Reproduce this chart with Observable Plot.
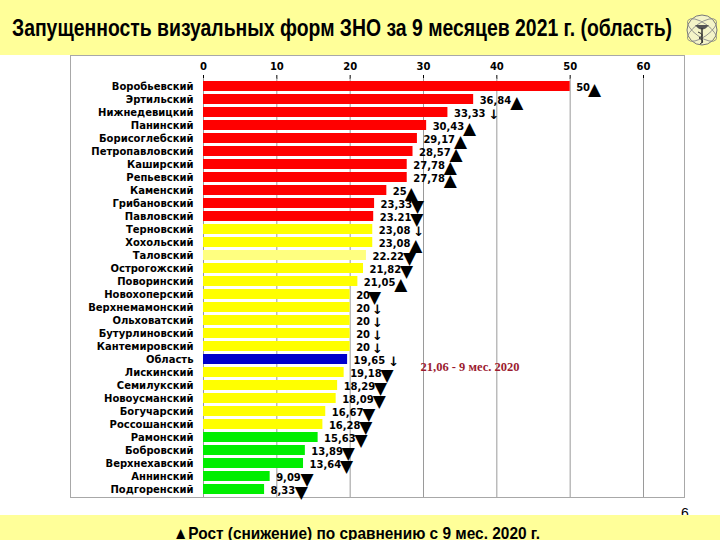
<!DOCTYPE html>
<html><head><meta charset="utf-8">
<script src="https://cdn.jsdelivr.net/npm/d3@7"></script>
<script src="https://cdn.jsdelivr.net/npm/@observablehq/plot@0.6"></script>
<style>
body{margin:0;width:720px;height:540px;background:#fff;position:relative;overflow:hidden;font-family:"DejaVu Sans",sans-serif}
#top{position:absolute;left:0;top:0;width:720px;height:55px;background:#FFFF99}
#title{position:absolute;left:12px;top:14px;font-weight:bold;font-size:24px;font-family:"Liberation Sans",sans-serif;white-space:nowrap;color:#000;transform-origin:0 0}
#logo{position:absolute;left:684px;top:10px}
#chart{position:absolute;left:70px;top:55px;width:613px;height:441px;border:1px solid #a8a8a8;background:#fff}
#bottom{position:absolute;left:0;top:515px;width:720px;height:25px;background:#FFFF99}
#caption{position:absolute;left:173px;top:524px;font-weight:bold;font-size:17px;font-family:"Liberation Sans",sans-serif;white-space:nowrap;color:#000;transform-origin:0 0}
#page{position:absolute;left:681px;top:505px;font-size:14px;font-family:"Liberation Sans",sans-serif}
</style></head>
<body>
<div id="top"></div>
<div id="title">Запущенность визуальных форм ЗНО за 9 месяцев 2021 г. (область)</div>
<svg id="logo" width="36" height="40" viewBox="0 0 36 40">
  <circle cx="18" cy="20" r="15" fill="#f4f4c8" stroke="#777" stroke-width="1"/>
  <ellipse cx="18" cy="20" rx="17" ry="7" fill="none" stroke="#888" stroke-width="0.8" transform="rotate(35 18 20)"/>
  <ellipse cx="18" cy="20" rx="17" ry="7" fill="none" stroke="#888" stroke-width="0.8" transform="rotate(-35 18 20)"/>
  <path d="M11 15 Q18 24 25 15 Z" fill="#555"/>
  <line x1="18" y1="18" x2="18" y2="33" stroke="#333" stroke-width="1.5"/>
  <path d="M14 22 Q22 25 15 28 Q22 31 16 34" fill="none" stroke="#333" stroke-width="1"/>
</svg>
<div id="chart"></div>
<div id="page">6</div>
<div id="bottom"></div>
<div id="caption">▲Рост (снижение) по сравнению с 9 мес. 2020 г.</div>
<script>
const districts = ["Воробьевский","Эртильский","Нижнедевицкий","Панинский","Борисоглебский","Петропавловский","Каширский","Репьевский","Каменский","Грибановский","Павловский","Терновский","Хохольский","Таловский","Острогожский","Поворинский","Новохоперский","Верхнемамонский","Ольховатский","Бутурлиновский","Кантемировский","Область","Лискинский","Семилукский","Новоусманский","Богучарский","Россошанский","Рамонский","Бобровский","Верхнехавский","Аннинский","Подгоренский"];
const values = [50,36.84,33.33,30.43,29.17,28.57,27.78,27.78,25,23.33,23.21,23.08,23.08,22.22,21.82,21.05,20,20,20,20,20,19.65,19.18,18.29,18.09,16.67,16.28,15.63,13.89,13.64,9.09,8.33];
const valueLabels = ["50","36,84","33,33","30,43","29,17","28,57","27,78","27,78","25","23,33","23.21","23,08","23,08","22.22","21,82","21,05","20","20","20","20","20","19,65","19,18","18,29","18,09","16,67","16,28","15,63","13,89","13,64","9,09","8,33"];
const trends = ["up","up","arrow","up","up","up","up","up","up","down","down","arrow","up","down","down","up","down","arrow","arrow","arrow","arrow","arrow","down","down","down","down","down","down","down","down","down","down"];
const groups = ["high","high","high","high","high","high","high","high","high","high","high","mid","mid","midLight","mid","mid","mid","mid","mid","mid","mid","region","mid","mid","mid","mid","mid","low","low","low","low","low"];
const xTicks = [0,10,20,30,40,50,60];
const note = {text:"21,06 - 9 мес. 2020", x:29.6, district:"Область"};

const rows = districts.map((d,i)=>({district:d, value:values[i], label:valueLabels[i], trend:trends[i], group:groups[i]}));
const glyph = {up:"▲", down:"▼", arrow:"↓"};

const markerMarks = [];
for (const len of [2,4,5]) {
  const dx = 6 + len*6.2 + 6;
  markerMarks.push(Plot.text(rows.filter(r=>r.label.length===len && r.trend!=="arrow"), {
    x:"value", y:"district", text:d=>glyph[d.trend], dx, dy:3, fontSize:17, fill:"#000", fontFamily:"DejaVu Sans"}));
  markerMarks.push(Plot.text(rows.filter(r=>r.label.length===len && r.trend==="arrow"), {
    x:"value", y:"district", text:d=>glyph[d.trend], dx:dx+3, dy:2, fontSize:13, fontWeight:"bold", fill:"#000", fontFamily:"DejaVu Sans"}));
}

const plot = Plot.plot({
  width:613, height:441,
  marginLeft:132, marginRight:41, marginTop:22, marginBottom:0,
  style:{fontFamily:"DejaVu Sans", fontSize:"10px", fontWeight:"bold", color:"#000", background:"#fff", overflow:"visible"},
  x:{domain:[0,60], axis:"top", ticks:xTicks, tickSize:4, tickPadding:5, label:null},
  y:{domain:districts, padding:0.2, tickSize:0, tickPadding:10, label:null},
  color:{type:"ordinal", domain:["high","mid","midLight","region","low"], range:["#FF0000","#FFFF00","#FFFF80","#0000CC","#00EE00"]},
  marks:[
    Plot.ruleX(xTicks, {stroke:"#9a9a9a", strokeWidth:1}),
    Plot.barX(rows, {x:"value", y:"district", fill:"group"}),
    Plot.text(rows, {x:"value", y:"district", text:"label", textAnchor:"start", dx:6, dy:1, fontSize:10, fontWeight:"bold", fill:"#000"}),
    ...markerMarks,
    Plot.text([note], {x:"x", y:"district", text:"text", textAnchor:"start", dy:7, fontSize:12.5, fontWeight:"bold", fontFamily:"Liberation Serif", fill:"#9B1B30"})
  ]
});
document.getElementById("chart").appendChild(plot);

function fitWidth(id, target){
  const el = document.getElementById(id);
  const w = el.getBoundingClientRect().width;
  el.style.transform = `scaleX(${target/w})`;
}
fitWidth("title", 660);
fitWidth("caption", 367);
</script>
</body></html>
